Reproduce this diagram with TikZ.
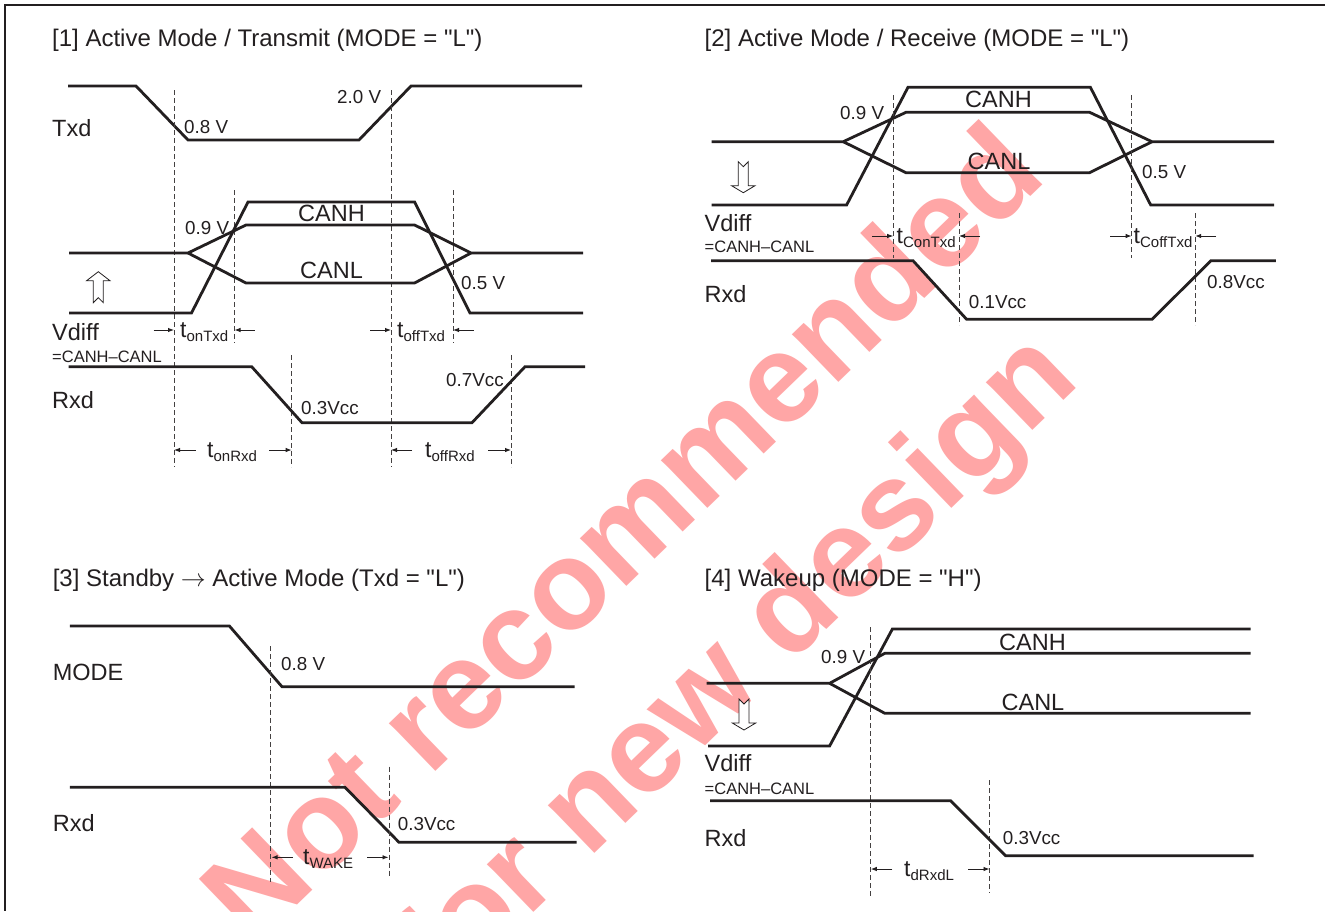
\documentclass[tikz,border=0pt]{standalone}
\usepackage{fontspec}
\setmainfont{Liberation Sans}[Ligatures=TeXOff]
\usetikzlibrary{arrows.meta}
\definecolor{ink}{HTML}{231F20}
\definecolor{wmred}{HTML}{FFA6A6}
\newcommand\fTitle{\fontsize{24}{28}\selectfont}
\newcommand\fBig{\fontsize{23.5}{28}\selectfont}
\newcommand\fSmall{\fontsize{18.8}{22}\selectfont}
\newcommand\fTiny{\fontsize{16.5}{20}\selectfont}
\newcommand\fSub{\fontsize{15}{18}\selectfont}
\newcommand\fWm{\fontsize{126}{140}\selectfont\bfseries}
\newcommand\tlab[1]{\fontsize{23}{26}\selectfont t\raisebox{-4pt}{\fSub #1}}
\begin{document}
\begin{tikzpicture}[x=1pt,y=-1pt,
  sig/.style={draw=ink, line width=2.8pt, line join=miter},
  dsh/.style={draw=ink!85, line width=1pt, dash pattern=on 5pt off 3pt},
  tarr/.style={draw=ink, line width=0.9pt, -{Latex[length=6pt,width=4.5pt]}},
  ttl/.style={anchor=west, inner sep=0pt, font=\fTitle, text=ink, text height=17.2pt, text depth=0pt},
  big/.style={anchor=west, inner sep=0pt, font=\fBig, text=ink, text height=16.8pt, text depth=0pt},
  small/.style={anchor=west, inner sep=0pt, font=\fSmall, text=ink, text height=13.5pt, text depth=0pt},
  tiny/.style={anchor=west, inner sep=0pt, font=\fTiny, text=ink, text height=11.8pt, text depth=0pt},
  tl/.style={anchor=base west, inner sep=0pt, text=ink},
  wmark/.style={anchor=base, inner sep=0pt, font=\fWm, text=wmred, rotate=44},
  hdown/.pic={\draw[ink, line width=0.8pt, fill=white] (-5,0) -- (0,5) -- (5,0) -- (5,24) -- (11.7,24) -- (0,31) -- (-11.7,24) -- (-5,24) -- cycle;},
  hup/.pic={\draw[ink, line width=0.8pt, fill=white] (-5,0) -- (0,-5) -- (5,0) -- (5,-22) -- (11.7,-22) -- (0,-31) -- (-11.7,-22) -- (-5,-22) -- cycle;}
]
\useasboundingbox (0,0) rectangle (1325,911);
\fill[white] (0,0) rectangle (1325,911);

% ================= Watermark (behind) =================
\begin{scope}
\clip (0,0) rectangle (1325,911);
\node[wmark] (wm1) at (651,563) {Not recommended};
\node[wmark] (wm2) at (762,692) {for new design};
\end{scope}

% frame
\draw[ink, line width=2.6pt] (4,5) -- (1325,5);
\draw[ink, line width=2.6pt] (5,4) -- (5,911);

% ================= Panel 1 =================
\node[ttl] (t1) at (52,38) {[1] Active Mode / Transmit (MODE = "L")};
\node[big] (txd1) at (52,128) {Txd};
\draw[sig] (68,86) -- (136,86) -- (188,140) -- (359,140) -- (411,86) -- (582,86);
\node[small] (v08a) at (184,127) {0.8 V};
\node[small] (v20a) at (337,97) {2.0 V};
\draw[dsh] (174,90) -- (174,467);
\draw[dsh] (391,90) -- (391,467);
\draw[dsh] (234.5,190) -- (234.5,343);
\draw[dsh] (453,190) -- (453,343);
\draw[dsh] (291.7,355) -- (291.7,467);
\draw[dsh] (511,355) -- (511,467);
\draw[sig] (69,313) -- (191.5,313) -- (248,202) -- (414.6,202) -- (470,313) -- (583,313);
\draw[sig] (69,253) -- (188,253) -- (246,225) -- (414.6,225) -- (471,253) -- (583,253);
\draw[sig] (188,253) -- (246,283) -- (414.6,283) -- (471,253);
\node[big] (canh1) at (298,213) {CANH};
\node[big] (canl1) at (300,270) {CANL};
\node[small] (v09a) at (185,228) {0.9 V};
\node[small] (v05a) at (461,283) {0.5 V};
\pic at (98.3,302.7) {hup};
\node[big] (vd1) at (52,332) {Vdiff};
\node[tiny] (eq1) at (52,357) {=CANH–CANL};
\draw[tarr] (153.6,330) -- (174,330);
\node[tl] (ton1) at (180,337) {\tlab{onTxd}};
\draw[tarr] (254.6,330) -- (234.5,330);
\draw[tarr] (370,330) -- (391,330);
\node[tl] (toff1) at (397,337) {\tlab{offTxd}};
\draw[tarr] (473.5,330) -- (453,330);
\draw[sig] (68.6,366.7) -- (251.7,366.7) -- (302,422.7) -- (472,422.7) -- (525,366.7) -- (585,366.7);
\node[big] (rxd1) at (52,400) {Rxd};
\node[small] (v03a) at (301,408) {0.3Vcc};
\node[small] (v07a) at (446,380) {0.7Vcc};
\draw[tarr] (195.7,450) -- (174,450);
\node[tl] (tonr1) at (207,457) {\tlab{onRxd}};
\draw[tarr] (269,450) -- (291.7,450);
\draw[tarr] (412,450) -- (391,450);
\node[tl] (toffr1) at (425,457) {\tlab{offRxd}};
\draw[tarr] (488,450) -- (511,450);

% ================= Panel 2 =================
\node[ttl] (t2) at (704.5,38) {[2] Active Mode / Receive (MODE = "L")};
\draw[sig] (711.7,205) -- (846.6,205) -- (908,87.3) -- (1090.4,87.3) -- (1150.7,205) -- (1274,205);
\draw[sig] (711.7,141.7) -- (843.2,141.7) -- (906,112.3) -- (1089.6,112.3) -- (1152,141.7) -- (1274,141.7);
\draw[sig] (843.2,141.7) -- (906,172.7) -- (1089.6,172.7) -- (1152,141.7);
\draw[dsh] (893.2,95) -- (893.2,258);
\draw[dsh] (1131.6,95) -- (1131.6,258);
\draw[dsh] (959,213) -- (959,325);
\draw[dsh] (1195.2,213) -- (1195.2,325);
\pic at (743.3,161.7) {hdown};
\node[big] (canh2) at (965,99) {CANH};
\node[big] (canl2) at (967.5,161) {CANL};
\node[small] (v09b) at (840,112.7) {0.9 V};
\node[small] (v05b) at (1142,171.7) {0.5 V};
\node[big] (vd2) at (704.5,222.7) {Vdiff};
\node[tiny] (eq2) at (704.5,247) {=CANH–CANL};
\draw[tarr] (872,236) -- (893.2,236);
\node[tl] (ton2) at (896.5,243) {\tlab{ConTxd}};
\draw[tarr] (980,236) -- (959,236);
\draw[tarr] (1110.4,236) -- (1131.6,236);
\node[tl] (toff2) at (1133.5,243) {\tlab{CoffTxd}};
\draw[tarr] (1216,236) -- (1195.2,236);
\draw[sig] (711,260.7) -- (913,260.7) -- (966.6,319.3) -- (1152,319.3) -- (1211,260.7) -- (1275.8,260.7);
\node[big] (rxd2) at (704.5,294) {Rxd};
\node[small] (v01b) at (968.7,302) {0.1Vcc};
\node[small] (v08b) at (1207,281.7) {0.8Vcc};

% ================= Panel 3 =================
\node[ttl] (t3) at (52.6,578) {[3] Standby $\rightarrow$ Active Mode (Txd = "L")};
\draw[sig] (69.9,626) -- (229.4,626) -- (282,686.7) -- (574.5,686.7);
\draw[dsh] (270.2,646) -- (270.2,881.7);
\node[small] (v08c) at (281,663.3) {0.8 V};
\node[big] (mode3) at (52.6,671.7) {MODE};
\draw[sig] (69.9,787.3) -- (345,787.3) -- (399,842.3) -- (576.6,842.3);
\draw[dsh] (389.3,766.7) -- (389.3,877.3);
\node[big] (rxd3) at (52.6,823.3) {Rxd};
\node[small] (v03c) at (397.7,823.3) {0.3Vcc};
\draw[tarr] (292.5,857.3) -- (271.5,857.3);
\node[tl] (twake) at (303,864) {\tlab{WAKE}};
\draw[tarr] (367,857.3) -- (388.5,857.3);

% ================= Panel 4 =================
\node[ttl] (t4) at (704.5,578) {[4] Wakeup (MODE = "H")};
\draw[sig] (708,746) -- (829.6,746) -- (892.4,629) -- (1250.7,629);
\draw[sig] (706.6,683.3) -- (829.6,683.3) -- (884.8,653.3) -- (1250.7,653.3);
\draw[sig] (829.6,683.3) -- (884.8,713.3) -- (1250.7,713.3);
\draw[dsh] (870.8,627.3) -- (870.8,898.3);
\draw[dsh] (989.5,780) -- (989.5,892.7);
\pic at (744,699) {hdown};
\node[big] (canh4) at (999,641.7) {CANH};
\node[big] (canl4) at (1001.4,702.3) {CANL};
\node[small] (v09d) at (821,656.7) {0.9 V};
\node[big] (vd4) at (704.5,763.3) {Vdiff};
\node[tiny] (eq4) at (704.5,788.3) {=CANH–CANL};
\draw[sig] (710,800.7) -- (950.5,800.7) -- (1005.6,855.7) -- (1253.7,855.7);
\node[big] (rxd4) at (704.5,837.7) {Rxd};
\node[small] (v03d) at (1002.7,837.7) {0.3Vcc};
\draw[tarr] (892.4,869) -- (870.8,869);
\node[tl] (tdrxd) at (904,876) {\tlab{dRxdL}};
\draw[tarr] (968.3,869) -- (989.5,869);
\end{tikzpicture}
\end{document}
